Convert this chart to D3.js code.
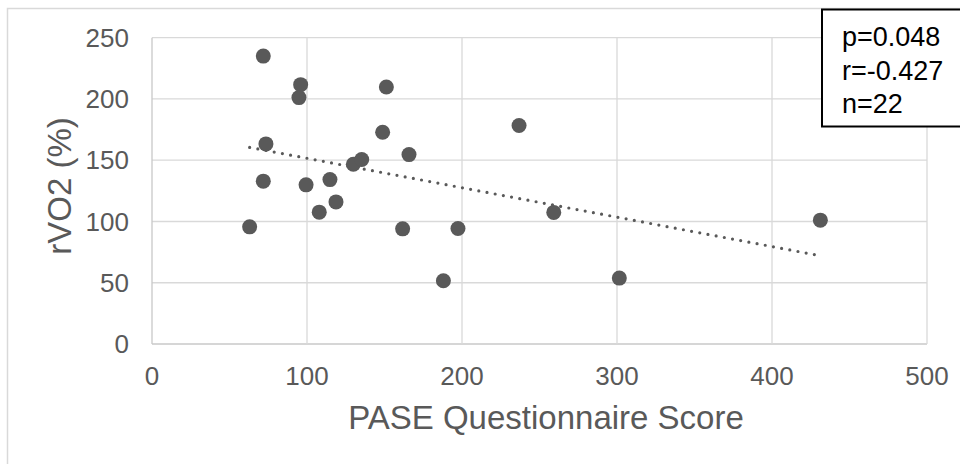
<!DOCTYPE html>
<html>
<head>
<meta charset="utf-8">
<script src="https://cdn.jsdelivr.net/npm/d3@7"></script>
<style>
  html, body { margin: 0; padding: 0; background: #fff; }
  svg { display: block; font-family: "Liberation Sans", Arial, sans-serif; }
</style>
</head>
<body>
<svg id="chart" width="960" height="464"></svg>
<script>
// PASE questionnaire score vs. relative VO2 (%), one point per participant
const paseScore = [71.8, 95.9, 94.8, 151.2, 148.8, 73.5, 165.8, 129.9, 135.3, 71.8, 99.4,
                   114.8, 118.7, 107.9, 63.0, 161.7, 188.0, 197.4, 259.2, 301.5, 236.8, 431.2];
const rvo2 = [235.0, 211.7, 201.1, 209.8, 172.8, 163.3, 154.6, 146.7, 150.6, 132.9, 129.9,
              134.2, 116.0, 107.6, 95.6, 94.0, 51.6, 94.3, 107.4, 53.8, 178.3, 101.1];
const xTicks = [0, 100, 200, 300, 400, 500];
const yTicks = [0, 50, 100, 150, 200, 250];
const statLines = ["p=0.048", "r=-0.427", "n=22"];
const xTitle = "PASE Questionnaire Score";
const yTitle = "rVO2 (%)";

const svg = d3.select("#chart");
const x = d3.scaleLinear().domain([0, 500]).range([152, 927]);
const y = d3.scaleLinear().domain([0, 250]).range([344, 37.7]);

const gridColor = "#d9d9d9";
const textColor = "#595959";
const markColor = "#595959";

// outer chart frame
svg.append("rect")
  .attr("x", 7.5).attr("y", 8.5)
  .attr("width", 1100).attr("height", 1000)
  .attr("fill", "none").attr("stroke", gridColor).attr("stroke-width", 1.5);

// gridlines
svg.append("g").selectAll("line.h").data(yTicks).join("line")
  .attr("x1", x(0)).attr("x2", x(500))
  .attr("y1", d => y(d)).attr("y2", d => y(d))
  .attr("stroke", d => d === 0 ? "#c8c8c8" : gridColor).attr("stroke-width", 1.3);
svg.append("g").selectAll("line.v").data(xTicks).join("line")
  .attr("x1", d => x(d)).attr("x2", d => x(d))
  .attr("y1", y(0)).attr("y2", y(250))
  .attr("stroke", d => d === 0 ? "#c8c8c8" : gridColor).attr("stroke-width", 1.3);

// tick labels
svg.append("g").selectAll("text").data(yTicks).join("text")
  .attr("x", 129).attr("y", d => y(d)).attr("dy", "0.35em")
  .attr("text-anchor", "end").attr("font-size", 26).attr("fill", textColor)
  .text(d => d);
svg.append("g").selectAll("text").data(xTicks).join("text")
  .attr("x", d => x(d)).attr("y", 385)
  .attr("text-anchor", "middle").attr("font-size", 26).attr("fill", textColor)
  .text(d => d);

// axis titles
svg.append("text")
  .attr("x", 546).attr("y", 428.5)
  .attr("text-anchor", "middle").attr("font-size", 33).attr("fill", textColor)
  .text(xTitle);
svg.append("text")
  .attr("transform", "translate(70.5,186) rotate(-90)")
  .attr("text-anchor", "middle").attr("font-size", 33).attr("fill", textColor)
  .text(yTitle);

// least-squares trend line over the observed score range
const pts = paseScore.map((v, i) => [v, rvo2[i]]);
const mx = d3.mean(paseScore), my = d3.mean(rvo2);
const slope = d3.sum(pts, p => (p[0] - mx) * (p[1] - my)) / d3.sum(pts, p => (p[0] - mx) ** 2);
const intercept = my - slope * mx;
const [xMin, xMax] = d3.extent(paseScore);
svg.append("path")
  .datum([xMin, xMax])
  .attr("d", d3.line().x(d => x(d)).y(d => y(intercept + slope * d)))
  .attr("fill", "none").attr("stroke", markColor)
  .attr("stroke-width", 3.2).attr("stroke-linecap", "round")
  .attr("stroke-dasharray", "0 8.33");

// data points
svg.append("g").selectAll("circle").data(pts).join("circle")
  .attr("cx", d => x(d[0])).attr("cy", d => y(d[1])).attr("r", 7.5)
  .attr("fill", markColor);

// statistics box
svg.append("rect")
  .attr("x", 822).attr("y", 9.5).attr("width", 200).attr("height", 117)
  .attr("fill", "#fff").attr("stroke", "#000").attr("stroke-width", 2);
svg.append("g").selectAll("text").data(statLines).join("text")
  .attr("x", 842).attr("y", (d, i) => 46 + i * 33.5)
  .attr("font-size", 27).attr("fill", "#000")
  .text(d => d);
</script>
</body>
</html>
